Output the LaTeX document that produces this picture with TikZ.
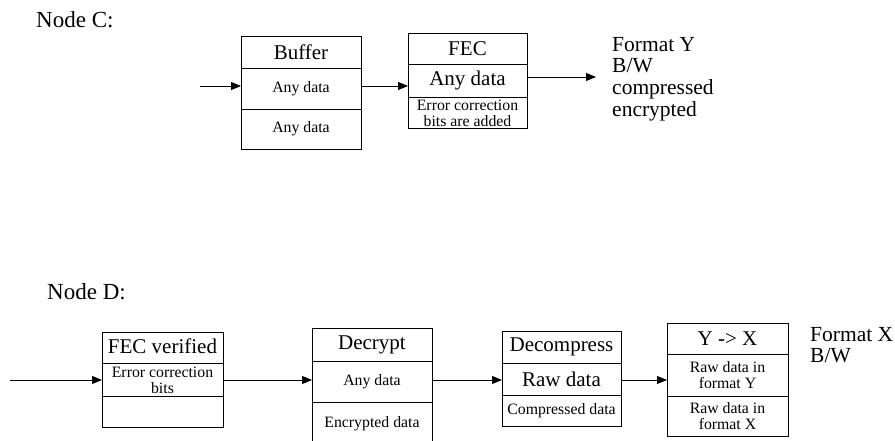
\documentclass[tikz,border=0pt]{standalone}
\usepackage{fontspec}
\setmainfont{Liberation Serif}
\usetikzlibrary{arrows.meta}

\tikzset{
  cell/.style={draw, line width=0.8pt, anchor=north west, inner sep=0pt, outer sep=0pt},
  big/.style={font=\fontsize{21}{22}\selectfont, inner sep=0pt},
  small/.style={font=\fontsize{15.8}{16.5}\selectfont, inner sep=0pt, align=center},
  heading/.style={font=\fontsize{23}{25}\selectfont, anchor=west, inner sep=0pt},
  side/.style={font=\fontsize{21.5}{21.7}\selectfont, anchor=north west, inner sep=0pt, align=left},
  flow/.style={line width=0.8pt, -{Triangle[length=10pt,width=8pt]}}
}

\begin{document}
\begin{tikzpicture}[x=1pt, y=-1pt]
\useasboundingbox (0,0) rectangle (895,441);
\clip (0,0) rectangle (895,441);

% ---------------- Node C ----------------
\node[heading] (labC) at (36,20) {Node C:};

% Buffer
\node[cell, minimum width=120pt, minimum height=32pt] (bufT) at (241,36) {};
\node[cell, minimum width=120pt, minimum height=41pt] (bufM) at (241,68) {};
\node[cell, minimum width=120pt, minimum height=40pt] (bufB) at (241,109) {};
\node[big] (bufTt) at (bufT.center) {Buffer};
\node[small] (bufMt) at (bufM.center) {Any data};
\node[small] (bufBt) at (bufB.center) {Any data};

% FEC
\node[cell, minimum width=119pt, minimum height=31pt] (fecT) at (408,33) {};
\node[cell, minimum width=119pt, minimum height=33pt] (fecM) at (408,64) {};
\node[cell, minimum width=119pt, minimum height=31pt] (fecB) at (408,97) {};
\node[big] (fecTt) at (fecT.center) {FEC};
\node[big] (fecMt) at (fecM.center) {Any data};
\node[small] (fecBt) at ([yshift=-1pt]fecB.center) {Error correction\\bits are added};

% Output description
\node[side] (fmtY) at (612,37) {Format Y\\B/W\\compressed\\encrypted};

\coordinate (inC) at (200,86);
\coordinate (outC) at (596,77);
\draw[flow] (inC) -- (bufM.west |- inC);
\draw[flow] (bufM.east |- inC) -- (fecM.west |- inC);
\draw[flow] (fecM.east |- outC) -- (outC);

% ---------------- Node D ----------------
\node[heading] (labD) at (47,292) {Node D:};

% FEC verified
\node[cell, minimum width=121pt, minimum height=31pt] (verT) at (102,332) {};
\node[cell, minimum width=121pt, minimum height=33pt] (verM) at (102,363) {};
\node[cell, minimum width=121pt, minimum height=31pt] (verB) at (102,396) {};
\node[big] (verTt) at ([yshift=1pt]verT.center) {FEC verified};
\node[small] (verMt) at ([yshift=-1pt]verM.center) {Error correction\\bits};

% Decrypt
\node[cell, minimum width=120pt, minimum height=33pt] (decT) at (312,328) {};
\node[cell, minimum width=120pt, minimum height=41pt] (decM) at (312,361) {};
\node[cell, minimum width=120pt, minimum height=44pt] (decB) at (312,402) {};
\node[big] (decTt) at (decT.center) {Decrypt};
\node[small] (decMt) at (decM.center) {Any data};
\node[small] (decBt) at (decB.center) {Encrypted data};

% Decompress
\node[cell, minimum width=119pt, minimum height=32pt] (dcmT) at (502,331) {};
\node[cell, minimum width=119pt, minimum height=32pt] (dcmM) at (502,363) {};
\node[cell, minimum width=119pt, minimum height=31pt] (dcmB) at (502,395) {};
\node[big] (dcmTt) at (dcmT.center) {Decompress};
\node[big] (dcmMt) at (dcmM.center) {Raw data};
\node[small] (dcmBt) at (dcmB.center) {Compressed data};

% Y -> X
\node[cell, minimum width=121pt, minimum height=31pt] (cnvT) at (667,323) {};
\node[cell, minimum width=121pt, minimum height=42pt] (cnvM) at (667,354) {};
\node[cell, minimum width=121pt, minimum height=40pt] (cnvB) at (667,396) {};
\node[big] (cnvTt) at (cnvT.center) {Y -> X};
\node[small] (cnvMt) at (cnvM.center) {Raw data in\\format Y};
\node[small] (cnvBt) at (cnvB.center) {Raw data in\\format X};

% Output description
\node[side] (fmtX) at (810,327) {Format X\\B/W};

\coordinate (inD) at (10,380);
\draw[flow] (inD) -- (verM.west |- inD);
\draw[flow] (verM.east |- inD) -- (decM.west |- inD);
\draw[flow] (decM.east |- inD) -- (dcmM.west |- inD);
\draw[flow] (dcmM.east |- inD) -- (cnvM.west |- inD);
\end{tikzpicture}
\end{document}
